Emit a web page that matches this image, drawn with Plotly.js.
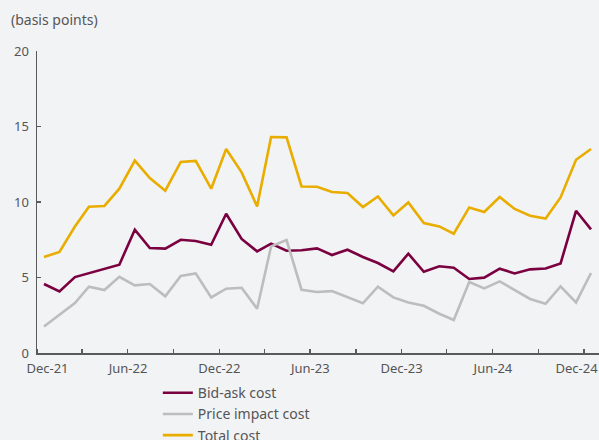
<!DOCTYPE html>
<html>
<head>
<meta charset="utf-8">
<script src="https://cdn.plot.ly/plotly-3.0.1.min.js"></script>
<style>
  html, body { margin: 0; padding: 0; background: #f2f3f5; }
  #chart { width: 599px; height: 440px; }
</style>
</head>
<body>
<div id="chart"></div>
<script>
// Monthly observations, Dec-21 to Dec-24 (plotted mid-month)
const months = [
  "2021-12-15","2022-01-15","2022-02-15","2022-03-15","2022-04-15","2022-05-15",
  "2022-06-15","2022-07-15","2022-08-15","2022-09-15","2022-10-15","2022-11-15",
  "2022-12-15","2023-01-15","2023-02-15","2023-03-15","2023-04-15","2023-05-15",
  "2023-06-15","2023-07-15","2023-08-15","2023-09-15","2023-10-15","2023-11-15",
  "2023-12-15","2024-01-15","2024-02-15","2024-03-15","2024-04-15","2024-05-15",
  "2024-06-15","2024-07-15","2024-08-15","2024-09-15","2024-10-15","2024-11-15",
  "2024-12-15"
];
const bidAsk = [
  4.57, 4.08, 5.03, 5.30, 5.58, 5.85,
  8.17, 6.95, 6.91, 7.50, 7.42, 7.17,
  9.22, 7.55, 6.73, 7.24, 6.77, 6.80,
  6.93, 6.49, 6.84, 6.36, 5.96, 5.40,
  6.58, 5.38, 5.74, 5.65, 4.90, 4.99,
  5.58, 5.27, 5.54, 5.60, 5.93, 9.42,
  8.19
];
const priceImpact = [
  1.76, 2.54, 3.31, 4.39, 4.17, 5.05,
  4.48, 4.57, 3.75, 5.10, 5.27, 3.68,
  4.26, 4.32, 2.93, 7.06, 7.48, 4.19,
  4.04, 4.10, 3.68, 3.29, 4.39, 3.68,
  3.35, 3.13, 2.60, 2.19, 4.70, 4.28,
  4.74, 4.19, 3.58, 3.26, 4.41, 3.35,
  5.30
];
const totalCost = [
  6.36, 6.69, 8.38, 9.69, 9.74, 10.88,
  12.74, 11.59, 10.75, 12.65, 12.72, 10.88,
  13.51, 11.96, 9.71, 14.30, 14.28, 11.03,
  11.01, 10.66, 10.60, 9.67, 10.37, 9.11,
  9.97, 8.61, 8.38, 7.90, 9.64, 9.34,
  10.33, 9.54, 9.09, 8.91, 10.30, 12.80,
  13.51
];
const seriesNames = ["Bid-ask cost", "Price impact cost", "Total cost"];
const tickLabels = ["Dec-21", "Jun-22", "Dec-22", "Jun-23", "Dec-23", "Jun-24", "Dec-24"];
const tickLabelDates = ["2021-12-22", "2022-06-01 12:00", "2022-12-01 12:00", "2023-06-01 12:00",
                        "2023-12-01 12:00", "2024-06-01 12:00", "2024-11-16"];

const font = "'Noto Sans', 'Open Sans', sans-serif";
const colors = ["#7a0040", "#bdbdbd", "#e9ad00"];
const series = [bidAsk, priceImpact, totalCost];

const traces = series.map((ys, k) => ({
  x: months, y: ys, name: seriesNames[k], type: "scatter", mode: "lines",
  line: { color: colors[k], width: 2.6 }, hoverinfo: "x+y"
}));

const layout = {
  width: 599, height: 440,
  paper_bgcolor: "#f2f3f5", plot_bgcolor: "#f2f3f5",
  margin: { l: 37, r: 0, t: 51, b: 87, autoexpand: false },
  font: { family: font, size: 13, color: "#555555" },
  showlegend: true,
  legend: {
    orientation: "v", x: 0.215, xanchor: "left", y: -0.080, yanchor: "top",
    bgcolor: "rgba(0,0,0,0)", font: { size: 14, color: "#555555" },
    itemwidth: 30, tracegroupgap: 0
  },
  xaxis: {
    type: "date", range: ["2021-12-01", "2024-12-31"],
    showgrid: false, zeroline: false,
    showline: true, linecolor: "#5a5a5a", linewidth: 1.5,
    tickmode: "array", tickvals: tickLabelDates, ticktext: tickLabels,
    ticks: "", ticklen: 0, ticklabelstandoff: 3,
    tickfont: { size: 13, color: "#555555" },
    minor: { dtick: "M3", tick0: "2021-12-01", ticks: "inside", ticklen: 4,
             tickcolor: "#5a5a5a", tickwidth: 1.2, showgrid: false }
  },
  yaxis: {
    range: [0, 20], dtick: 5, tick0: 0,
    showgrid: false, zeroline: false,
    showline: true, linecolor: "#5a5a5a", linewidth: 1.5,
    ticks: "inside", ticklen: 4, tickcolor: "#5a5a5a", tickwidth: 1.2,
    ticklabelstandoff: 4,
    tickfont: { size: 13, color: "#555555" }
  },
  annotations: [{
    text: "(basis points)", xref: "paper", yref: "paper",
    x: -0.049, y: 1.103, xanchor: "left", yanchor: "middle",
    showarrow: false, font: { size: 14, color: "#555555" }
  }]
};

Plotly.newPlot("chart", traces, layout, { displayModeBar: false, staticPlot: true });
</script>
</body>
</html>
